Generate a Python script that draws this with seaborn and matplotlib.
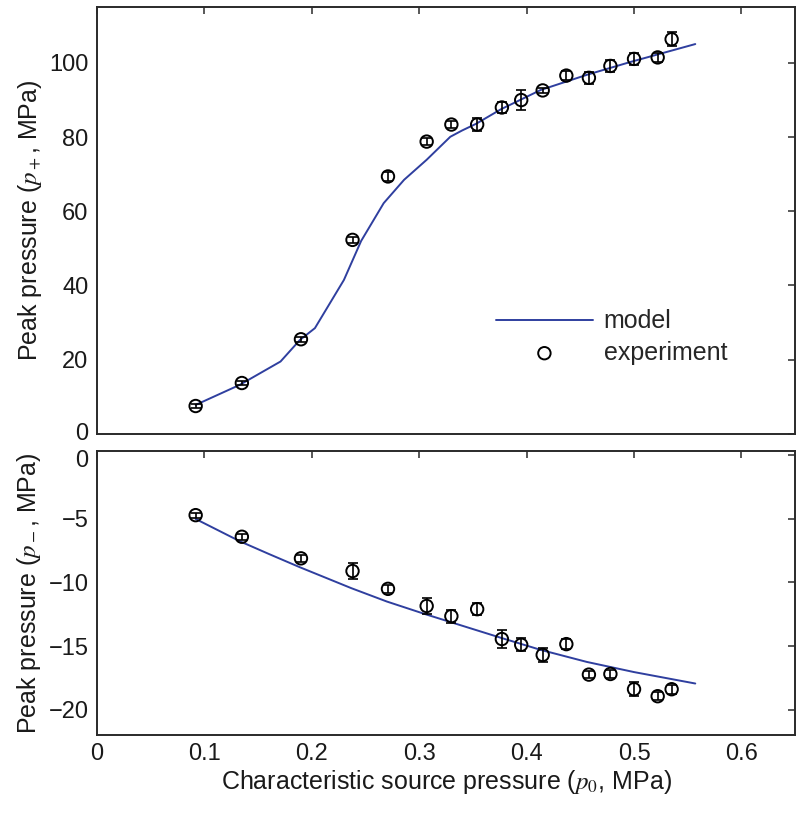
import numpy as np
import matplotlib
matplotlib.use("Agg")
import matplotlib.pyplot as plt
import matplotlib.transforms as mtransforms
import seaborn as sns

# ── Data ─────────────────────────────────────────────────────────────────────

p0 = [0.092, 0.135, 0.190, 0.238, 0.271, 0.307, 0.330, 0.354, 0.377, 0.395,
      0.415, 0.437, 0.458, 0.478, 0.500, 0.522, 0.535]

p_plus = [7.5, 13.7, 25.5, 52.3, 69.4, 78.8, 83.4, 83.4, 88.0, 90.0,
          92.6, 96.6, 96.0, 99.2, 101.1, 101.5, 106.4]
p_plus_err = [0.6, 0.6, 0.7, 0.8, 1.2, 1.0, 1.0, 1.7, 1.5, 2.8,
              0.6, 1.3, 1.7, 1.6, 1.6, 1.2, 1.9]

p_minus = [-4.7, -6.4, -8.1, -9.1, -10.5, -11.85, -12.65, -12.1, -14.45, -14.9,
           -15.7, -14.85, -17.25, -17.2, -18.4, -18.95, -18.4]
p_minus_err = [0.2, 0.25, 0.25, 0.6, 0.3, 0.6, 0.5, 0.45, 0.7, 0.5,
               0.55, 0.4, 0.3, 0.3, 0.55, 0.3, 0.35]

model_x_plus = [0.092, 0.133, 0.171, 0.189, 0.203, 0.230, 0.246, 0.267, 0.286,
                0.307, 0.329, 0.340, 0.353, 0.376, 0.413, 0.456, 0.497, 0.557]
model_y_plus = [7.8, 13.2, 19.5, 25.3, 28.5, 41.5, 52.0, 62.2, 68.5,
                73.9, 80.1, 81.8, 83.6, 87.5, 92.7, 96.8, 100.3, 105.1]

model_x_minus = [0.092, 0.133, 0.160, 0.189, 0.237, 0.270, 0.306, 0.340,
                 0.376, 0.413, 0.456, 0.500, 0.557]
model_y_minus = [-5.0, -6.75, -7.75, -8.8, -10.45, -11.5, -12.5, -13.4,
                 -14.35, -15.3, -16.25, -17.05, -17.95]

LINE_COLOR = "#2f3f9f"
FS = 18
TICK_FS = 17

# ── Style ────────────────────────────────────────────────────────────────────

sns.set_theme(style="white")
plt.rcParams["font.family"] = ["Liberation Sans", "DejaVu Sans"]
plt.rcParams["mathtext.fontset"] = "stix"
plt.rcParams["font.size"] = FS
plt.rcParams["axes.edgecolor"] = "#2a2a2a"
plt.rcParams["axes.linewidth"] = 1.4


def style_axes(ax):
    ax.tick_params(direction="in", length=5, width=1.1, color="#2a2a2a",
                   top=True, right=True, labelsize=TICK_FS, labelcolor="#1a1a1a", pad=6)
    for s in ax.spines.values():
        s.set_visible(True)


def draw_panel(ax, mx, my, y, yerr, label_model=None, label_exp=None):
    sns.lineplot(x=mx, y=my, ax=ax, color=LINE_COLOR, linewidth=1.4,
                 label=label_model, sort=False)
    ax.errorbar(p0, y, yerr=yerr, fmt="none", ecolor="black",
                elinewidth=1.2, capsize=3.8, capthick=1.2)
    sns.scatterplot(x=p0, y=y, ax=ax, marker="o", s=80, facecolor="none",
                    edgecolor="black", linewidth=1.4, label=label_exp, zorder=3)


fig = plt.figure(figsize=(8, 8.17), dpi=100)
ax_top = fig.add_axes([0.121, 0.469, 0.873, 0.522])
ax_bot = fig.add_axes([0.121, 0.1004, 0.873, 0.3476])

# ── Top: positive peak pressure ─────────────────────────────────────────────

draw_panel(ax_top, model_x_plus, model_y_plus, p_plus, p_plus_err,
           label_model="model", label_exp="experiment")
ax_top.set_xlim(0, 0.65)
ax_top.set_ylim(0, 115)
ax_top.set_xticks(np.arange(0, 0.65, 0.1))
ax_top.set_xticklabels([])
ax_top.set_yticks([0, 20, 40, 60, 80, 100])
ax_top.set_ylabel(r"Peak pressure ($p_+$, MPa)", fontsize=FS, color="#1a1a1a")
style_axes(ax_top)
ax_top.legend(loc="center left", bbox_to_anchor=(0.572, 0.227), frameon=False,
              fontsize=FS, handlelength=3.85, handletextpad=0.45,
              labelspacing=0.3, borderpad=0, borderaxespad=0)

# ── Bottom: negative peak pressure ──────────────────────────────────────────

draw_panel(ax_bot, model_x_minus, model_y_minus, p_minus, p_minus_err)
ax_bot.set_xlim(0, 0.65)
ax_bot.set_ylim(-22, 0.35)
ax_bot.set_xticks(np.arange(0, 0.65, 0.1))
ax_bot.set_xticklabels(["0", "0.1", "0.2", "0.3", "0.4", "0.5", "0.6"])
ax_bot.set_yticks([-20, -15, -10, -5, 0])
ax_bot.set_yticklabels(["\u221220", "\u221215", "\u221210", "\u22125", "0"])
ax_bot.set_ylabel(r"Peak pressure ($p_-$, MPa)", fontsize=FS, color="#1a1a1a")
ax_bot.set_xlabel(r"Characteristic source pressure ($p_0$, MPa)",
                  fontsize=FS, color="#1a1a1a", labelpad=2)
style_axes(ax_bot)
leg = ax_bot.get_legend()
if leg is not None:
    leg.remove()

# keep the two stacked "0" labels apart (top one up a touch, bottom one down)
nudge_up = mtransforms.ScaledTranslation(0, 2 / 72, fig.dpi_scale_trans)
nudge_dn = mtransforms.ScaledTranslation(0, -2 / 72, fig.dpi_scale_trans)
lbl_top0 = ax_top.get_yticklabels()[0]
lbl_top0.set_transform(lbl_top0.get_transform() + nudge_up)
lbl_bot0 = ax_bot.get_yticklabels()[-1]
lbl_bot0.set_transform(lbl_bot0.get_transform() + nudge_dn)

fig.align_ylabels([ax_top, ax_bot])
fig.savefig("out.png", dpi=100)
